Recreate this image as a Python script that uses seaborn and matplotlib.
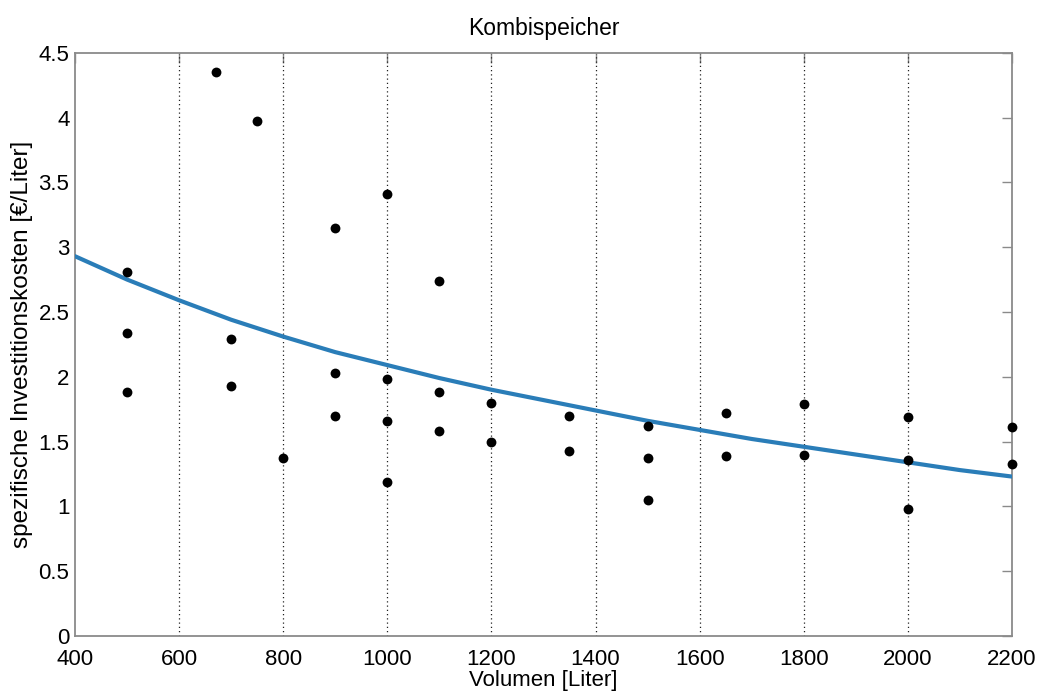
import matplotlib
matplotlib.use("Agg")
import matplotlib.pyplot as plt
import seaborn as sns
import pandas as pd

# Measured points
volumen = [500, 500, 500, 670, 700, 700, 750, 800,
           900, 900, 900, 1000, 1000, 1000, 1000,
           1100, 1100, 1100, 1200, 1200, 1350, 1350,
           1500, 1500, 1500, 1650, 1650, 1800, 1800,
           2000, 2000, 2000, 2200, 2200]
kosten = [2.81, 2.34, 1.88, 4.35, 2.29, 1.93, 3.97, 1.37,
          3.15, 2.03, 1.70, 3.41, 1.98, 1.66, 1.19,
          2.74, 1.88, 1.58, 1.80, 1.50, 1.70, 1.43,
          1.62, 1.37, 1.05, 1.72, 1.39, 1.79, 1.40,
          1.69, 1.36, 0.98, 1.61, 1.33]

# Fit curve
fit_x = [400, 500, 600, 700, 800, 900, 1000, 1100, 1200, 1300,
         1400, 1500, 1600, 1700, 1800, 1900, 2000, 2100, 2200]
fit_y = [2.93, 2.75, 2.59, 2.44, 2.31, 2.19, 2.09, 1.99, 1.90, 1.82,
         1.74, 1.66, 1.59, 1.52, 1.46, 1.40, 1.34, 1.28, 1.23]

x_ticks = [400, 600, 800, 1000, 1200, 1400, 1600, 1800, 2000, 2200]
y_ticks = [0, 0.5, 1, 1.5, 2, 2.5, 3, 3.5, 4, 4.5]
y_ticklabels = ["0", "0.5", "1", "1.5", "2", "2.5", "3", "3.5", "4", "4.5"]

sns.set_style("white")
plt.rcParams['font.family'] = ['Liberation Sans', 'DejaVu Sans']
plt.rcParams['text.color'] = 'black'
plt.rcParams['axes.labelcolor'] = 'black'

fig = plt.figure(figsize=(10.44, 6.96), dpi=100)
ax = fig.add_axes([0.0718, 0.0862, 0.8975, 0.8381])

pts = pd.DataFrame({"Volumen": volumen, "Kosten": kosten})
fit = pd.DataFrame({"Volumen": fit_x, "Kosten": fit_y})

# vertical dotted grid lines
for xv in x_ticks[1:-1]:
    ax.axvline(xv, color="#222222", linestyle=(0, (1, 2.4)), linewidth=0.9, zorder=1)

sns.lineplot(data=fit, x="Volumen", y="Kosten", ax=ax, color="#2a7db8",
             linewidth=3.0, zorder=3)
sns.scatterplot(data=pts, x="Volumen", y="Kosten", ax=ax, color="black",
                s=50, edgecolor="black", linewidth=0, zorder=4, clip_on=False)

ax.set_xlim(400, 2200)
ax.set_ylim(0, 4.5)
ax.set_xticks(x_ticks)
ax.set_xticklabels([str(v) for v in x_ticks])
ax.set_yticks(y_ticks)
ax.set_yticklabels(y_ticklabels)

ax.tick_params(axis="both", direction="in", length=7, width=1.0,
               color="#8a8a8a", labelsize=16, labelcolor="black",
               top=True, right=True)
ax.tick_params(axis="x", pad=9)
ax.tick_params(axis="y", pad=4)

for sp in ax.spines.values():
    sp.set_visible(True)
    sp.set_color("#8a8a8a")
    sp.set_linewidth(1.3)

ax.set_xlabel("Volumen [Liter]", fontsize=16, labelpad=0, color="black")
ax.set_ylabel("spezifische Investitionskosten [€/Liter]", fontsize=17.5,
              labelpad=4, color="black")
ax.set_title("Kombispeicher", fontsize=16.5, pad=13, color="black")

fig.savefig("out.png", dpi=100)
